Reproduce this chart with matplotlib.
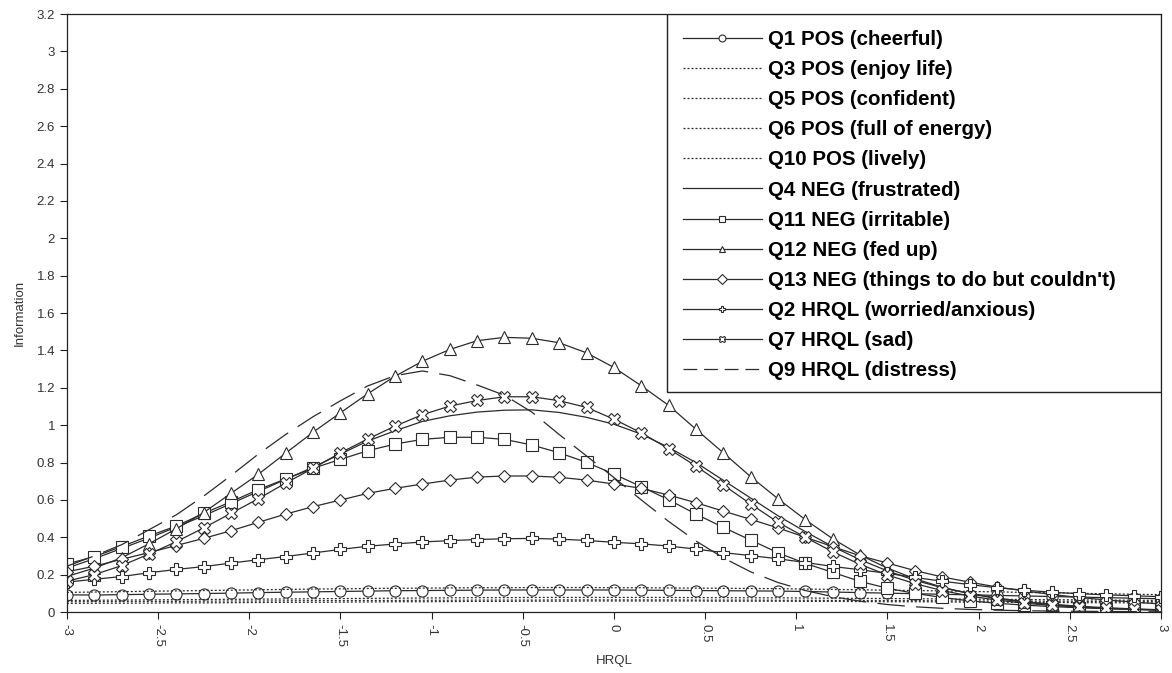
import matplotlib
matplotlib.use("Agg")
import matplotlib.pyplot as plt
from matplotlib.patches import Rectangle
import numpy as np

plt.rcParams["font.family"] = ["Liberation Sans", "DejaVu Sans"]

# HRQL grid (theta), information
theta = np.linspace(-3, 3, 41)

q1_cheerful = [0.092, 0.091, 0.093, 0.095, 0.097, 0.099, 0.101, 0.104, 0.106, 0.108,
               0.110, 0.112, 0.114, 0.115, 0.116, 0.117, 0.118, 0.118, 0.118, 0.118,
               0.118, 0.117, 0.116, 0.115, 0.114, 0.113, 0.112, 0.110, 0.107, 0.104,
               0.101, 0.098, 0.095, 0.092, 0.089, 0.086, 0.083, 0.080, 0.077, 0.074, 0.071]
q3_enjoy = [0.105, 0.107, 0.109, 0.111, 0.113, 0.115, 0.117, 0.119, 0.121, 0.123,
            0.124, 0.126, 0.127, 0.128, 0.129, 0.130, 0.130, 0.131, 0.131, 0.131,
            0.130, 0.130, 0.129, 0.128, 0.127, 0.126, 0.125, 0.123, 0.121, 0.119,
            0.117, 0.115, 0.113, 0.110, 0.108, 0.105, 0.103, 0.100, 0.098, 0.095, 0.093]
q5_confident = [0.062, 0.063, 0.064, 0.065, 0.066, 0.067, 0.068, 0.069, 0.070, 0.071,
                0.072, 0.073, 0.074, 0.075, 0.076, 0.077, 0.077, 0.078, 0.078, 0.078,
                0.078, 0.078, 0.078, 0.077, 0.077, 0.076, 0.076, 0.075, 0.074, 0.073,
                0.072, 0.071, 0.070, 0.069, 0.068, 0.067, 0.066, 0.065, 0.064, 0.063, 0.062]
q6_energy = [0.055, 0.056, 0.056, 0.057, 0.057, 0.058, 0.059, 0.059, 0.060, 0.061,
             0.061, 0.062, 0.062, 0.063, 0.063, 0.064, 0.064, 0.064, 0.065, 0.065,
             0.065, 0.065, 0.065, 0.064, 0.064, 0.064, 0.063, 0.063, 0.062, 0.062,
             0.061, 0.061, 0.060, 0.059, 0.059, 0.058, 0.058, 0.057, 0.056, 0.056, 0.055]
q10_lively = [0.046, 0.047, 0.047, 0.048, 0.049, 0.049, 0.050, 0.051, 0.052, 0.052,
              0.053, 0.054, 0.055, 0.055, 0.056, 0.057, 0.057, 0.058, 0.058, 0.059,
              0.059, 0.059, 0.059, 0.059, 0.058, 0.058, 0.058, 0.057, 0.057, 0.056,
              0.055, 0.055, 0.054, 0.053, 0.053, 0.052, 0.051, 0.050, 0.050, 0.049, 0.048]
q4_frustrated = [0.235, 0.285, 0.340, 0.395, 0.455, 0.515, 0.580, 0.645, 0.710, 0.775,
                 0.845, 0.915, 0.970, 1.020, 1.050, 1.070, 1.080, 1.082, 1.068, 1.042,
                 1.005, 0.952, 0.881, 0.800, 0.705, 0.610, 0.515, 0.430, 0.350, 0.280,
                 0.220, 0.170, 0.130, 0.100, 0.075, 0.056, 0.042, 0.031, 0.023, 0.017, 0.012]
q11_irritable = [0.257, 0.296, 0.350, 0.407, 0.460, 0.528, 0.590, 0.655, 0.712, 0.769,
                 0.817, 0.863, 0.899, 0.924, 0.935, 0.935, 0.924, 0.894, 0.852, 0.801,
                 0.738, 0.671, 0.601, 0.524, 0.453, 0.385, 0.317, 0.260, 0.212, 0.164,
                 0.127, 0.100, 0.078, 0.060, 0.047, 0.037, 0.029, 0.023, 0.018, 0.014, 0.011]
q12_fedup = [0.190, 0.235, 0.290, 0.365, 0.445, 0.532, 0.635, 0.737, 0.850, 0.962,
             1.066, 1.168, 1.262, 1.342, 1.405, 1.452, 1.470, 1.465, 1.441, 1.387,
             1.309, 1.211, 1.106, 0.978, 0.852, 0.724, 0.606, 0.494, 0.392, 0.305,
             0.235, 0.178, 0.133, 0.098, 0.072, 0.053, 0.039, 0.028, 0.020, 0.015, 0.011]
q13_couldnt = [0.215, 0.245, 0.282, 0.318, 0.356, 0.394, 0.435, 0.480, 0.524, 0.564,
               0.599, 0.635, 0.662, 0.685, 0.706, 0.722, 0.728, 0.728, 0.721, 0.706,
               0.685, 0.662, 0.626, 0.585, 0.540, 0.496, 0.450, 0.400, 0.350, 0.301,
               0.262, 0.222, 0.188, 0.160, 0.134, 0.113, 0.094, 0.078, 0.065, 0.053, 0.043]
q2_worried = [0.160, 0.175, 0.190, 0.210, 0.228, 0.243, 0.262, 0.280, 0.297, 0.316,
              0.335, 0.352, 0.364, 0.375, 0.382, 0.388, 0.392, 0.394, 0.390, 0.383,
              0.373, 0.365, 0.353, 0.337, 0.318, 0.302, 0.285, 0.265, 0.244, 0.226,
              0.207, 0.185, 0.165, 0.147, 0.130, 0.117, 0.106, 0.098, 0.092, 0.087, 0.082]
q7_sad = [0.165, 0.200, 0.248, 0.310, 0.376, 0.450, 0.528, 0.606, 0.690, 0.769,
          0.852, 0.926, 0.995, 1.056, 1.102, 1.132, 1.152, 1.152, 1.131, 1.095,
          1.032, 0.959, 0.874, 0.781, 0.680, 0.578, 0.480, 0.400, 0.322, 0.255,
          0.198, 0.152, 0.115, 0.086, 0.064, 0.047, 0.035, 0.026, 0.019, 0.014, 0.010]
q9_distress = [0.245, 0.300, 0.360, 0.440, 0.520, 0.620, 0.730, 0.845, 0.950, 1.045,
               1.130, 1.210, 1.265, 1.290, 1.265, 1.215, 1.160, 1.070, 0.950, 0.835,
               0.720, 0.600, 0.485, 0.380, 0.290, 0.215, 0.158, 0.115, 0.082, 0.058,
               0.040, 0.028, 0.020, 0.014, 0.010, 0.007, 0.005, 0.004, 0.003, 0.002, 0.001]

labels = [
    "Q1 POS (cheerful)", "Q3 POS (enjoy life)", "Q5 POS (confident)",
    "Q6 POS (full of energy)", "Q10 POS (lively)", "Q4 NEG (frustrated)",
    "Q11 NEG (irritable)", "Q12 NEG (fed up)", "Q13 NEG (things to do but couldn't)",
    "Q2 HRQL (worried/anxious)", "Q7 HRQL (sad)", "Q9 HRQL (distress)",
]
series = [q1_cheerful, q3_enjoy, q5_confident, q6_energy, q10_lively, q4_frustrated,
          q11_irritable, q12_fedup, q13_couldnt, q2_worried, q7_sad, q9_distress]

DOT = (0, (1.6, 1.6))
DASH = (0, (22, 9))
styles = [
    dict(ls="-", marker="o", ms=8),
    dict(ls=DOT, marker=None),
    dict(ls=DOT, marker=None),
    dict(ls=DOT, marker=None),
    dict(ls=DOT, marker=None),
    dict(ls="-", marker=None),
    dict(ls="-", marker="s", ms=8.5),
    dict(ls="-", marker="^", ms=9),
    dict(ls="-", marker="D", ms=6),
    dict(ls="-", marker="P", ms=9),
    dict(ls="-", marker="X", ms=9),
    dict(ls=DASH, marker=None),
]

LINE = "#2b2b2b"

fig = plt.figure(figsize=(11.72, 6.73), dpi=100)
ax = fig.add_axes([0.057, 0.0906, 0.9336, 0.8885])

for vals, lab, st in zip(series, labels, styles):
    ax.plot(theta, vals, color=LINE, lw=0.9, linestyle=st["ls"],
            marker=st["marker"], markersize=st.get("ms", 6),
            markerfacecolor="white", markeredgecolor=LINE, markeredgewidth=0.8,
            label=lab)

ax.set_xlim(-3, 3)
ax.set_ylim(0, 3.2)
ax.set_xticks(np.arange(-3, 3.01, 0.5))
ax.set_xticklabels([f"{v:g}" for v in np.arange(-3, 3.01, 0.5)], rotation=-90)
ax.set_yticks(np.arange(0, 3.21, 0.2))
ax.set_yticklabels([f"{v:.1f}".rstrip("0").rstrip(".") if v else "0"
                    for v in np.arange(0, 3.21, 0.2)])
ax.tick_params(direction="out", length=5, width=0.8, labelsize=9.5,
               colors="#222222", labelcolor="#333333")
for sp in ax.spines.values():
    sp.set_linewidth(0.9)
    sp.set_color("#222222")

ax.set_xlabel("HRQL", fontsize=9.5, color="#333333", labelpad=6)
ax.set_ylabel("Information", fontsize=9.5, color="#333333", labelpad=8)

# legend box drawn separately so it can reach the right frame
box_x0 = 0.5484
box_y0 = 0.368
ax.add_patch(Rectangle((box_x0, box_y0), 1.0 - box_x0, 1.0 - box_y0,
                       transform=ax.transAxes, facecolor="white",
                       edgecolor="#222222", linewidth=1.0, zorder=4))
leg = ax.legend(loc="upper left", bbox_to_anchor=(box_x0, 1.0), frameon=False,
                prop=dict(size=14.8, weight="bold"),
                handlelength=3.85, handletextpad=0.29, labelspacing=0.54,
                borderpad=0.78, borderaxespad=0.0)
leg.set_zorder(5)
for h in leg.legend_handles:
    h.set_markersize(5)
# shorter dashes in the legend sample, as in the reference
leg.legend_handles[-1].set_linestyle((0, (11, 5.5)))

fig.savefig("out.png", dpi=100)
